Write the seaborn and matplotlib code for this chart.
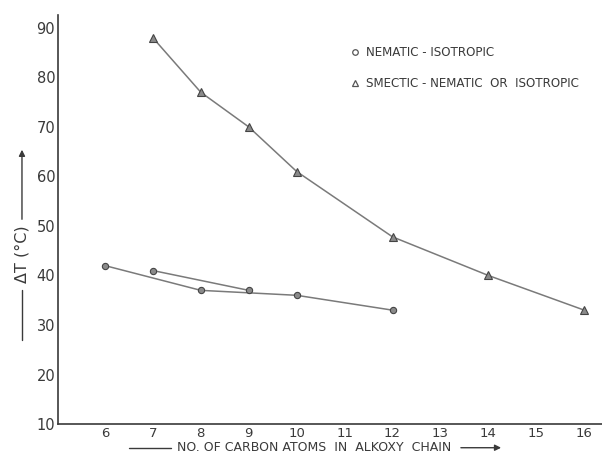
import numpy as np
import pandas as pd
import matplotlib
matplotlib.use("Agg")
import matplotlib.pyplot as plt
from matplotlib.lines import Line2D
import seaborn as sns

# nematic-isotropic (odd-even branches)
ni_even_x = [6, 8, 10, 12]
ni_even_y = [42, 37, 36, 33]
ni_odd_x = [7, 9]
ni_odd_y = [41, 37]

# smectic-nematic or isotropic
sm_x = [7, 8, 9, 10, 12, 14, 16]
sm_y = [88, 77, 70, 61, 47.8, 40, 33]

x_ticks = [6, 7, 8, 9, 10, 11, 12, 13, 14, 15, 16]
y_ticks = [10, 20, 30, 40, 50, 60, 70, 80, 90]

sns.set_style("white")
plt.rcParams['font.family'] = ['DejaVu Sans']

ink = "#3a3a3a"
line_c = "#7a7a7a"

df = pd.concat([
    pd.DataFrame({"n": ni_even_x, "dT": ni_even_y, "branch": "ni_even"}),
    pd.DataFrame({"n": ni_odd_x, "dT": ni_odd_y, "branch": "ni_odd"}),
])
df_sm = pd.DataFrame({"n": sm_x, "dT": sm_y, "branch": "sm"})

fig = plt.figure(figsize=(6.02, 4.55), dpi=100)
ax = fig.add_axes([0.0963, 0.068, 0.9037, 0.899])

sns.lineplot(data=df, x="n", y="dT", units="branch", estimator=None, ax=ax,
             color=line_c, lw=1.1, marker="o", markersize=4.5,
             markerfacecolor="#8a8a8a", markeredgecolor="#444444", markeredgewidth=0.8)
sns.lineplot(data=df_sm, x="n", y="dT", estimator=None, ax=ax,
             color=line_c, lw=1.1, marker="^", markersize=5.5,
             markerfacecolor="#8a8a8a", markeredgecolor="#444444", markeredgewidth=0.8)

ax.set_xlim(5.02, 16.37)
ax.set_ylim(10, 92.6)
ax.set_xticks(x_ticks)
ax.set_yticks(y_ticks)
ax.set_xticklabels([str(v) for v in x_ticks], fontsize=9.5, color=ink)
ax.set_yticklabels([str(v) for v in y_ticks], fontsize=10.5, color=ink)
ax.tick_params(axis="both", direction="in", length=4, width=0.9, color=ink)
ax.tick_params(axis="x", pad=2)
ax.tick_params(axis="y", pad=2)
ax.set_xlabel("")
ax.set_ylabel("")
for s in ["top", "right"]:
    ax.spines[s].set_visible(False)
for s in ["left", "bottom"]:
    ax.spines[s].set_color(ink)
    ax.spines[s].set_linewidth(1.2)

handles = [
    Line2D([], [], ls="none", marker="o", markersize=4, markerfacecolor="white",
           markeredgecolor="#555555", markeredgewidth=0.9),
    Line2D([], [], ls="none", marker="^", markersize=4.5, markerfacecolor="white",
           markeredgecolor="#555555", markeredgewidth=0.9),
]
leg = ax.legend(handles, ["NEMATIC - ISOTROPIC", "SMECTIC - NEMATIC  OR  ISOTROPIC"],
                loc="upper left", bbox_to_anchor=(0.526, 0.936), frameon=False,
                fontsize=8.6, handletextpad=0.45, labelspacing=1.5, handlelength=1.0,
                borderaxespad=0)
for t in leg.get_texts():
    t.set_color(ink)

# y label with arrow lines
yl_x = 0.0365
fig.text(yl_x, 0.442, "ΔT (°C)", rotation=90, ha="center", va="center",
         fontsize=11.5, color=ink)
fig.add_artist(Line2D([yl_x, yl_x], [0.253, 0.363], transform=fig.transFigure,
                      color=ink, lw=1.0))
ax.annotate("", xy=(yl_x, 0.677), xytext=(yl_x, 0.512), xycoords="figure fraction",
            textcoords="figure fraction",
            arrowprops=dict(arrowstyle="-|>", color=ink, lw=1.0, mutation_scale=9))

# x label with arrow lines
xl_y = 0.016
fig.text(0.522, xl_y, "NO. OF CARBON ATOMS  IN  ALKOXY  CHAIN", ha="center", va="center",
         fontsize=9, color=ink)
fig.add_artist(Line2D([0.214, 0.284], [xl_y, xl_y], transform=fig.transFigure,
                      color=ink, lw=1.0))
ax.annotate("", xy=(0.837, xl_y), xytext=(0.761, xl_y), xycoords="figure fraction",
            textcoords="figure fraction",
            arrowprops=dict(arrowstyle="-|>", color=ink, lw=1.0, mutation_scale=9))

fig.savefig("out.png", dpi=100)
